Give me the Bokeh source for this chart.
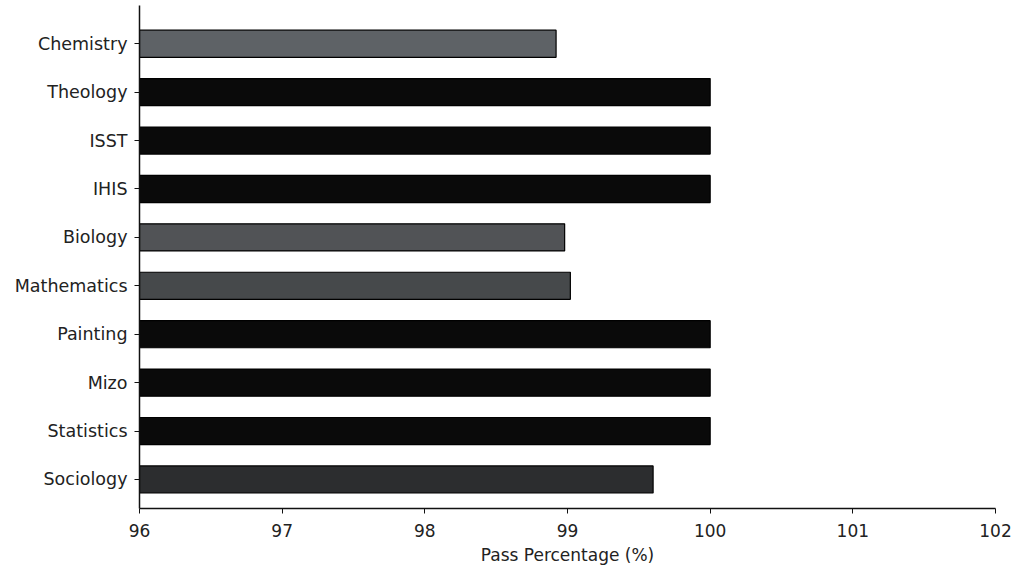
from bokeh.plotting import figure
from bokeh.models import Range1d, FixedTicker, ColumnDataSource
from bokeh.embed import file_html
from bokeh.resources import INLINE

# Data (top to bottom as shown)
subjects = ["Chemistry", "Theology", "ISST", "IHIS", "Biology", "Mathematics",
            "Painting", "Mizo", "Statistics", "Sociology"]
pass_pct = [98.92, 100.0, 100.0, 100.0, 98.98, 99.02, 100.0, 100.0, 100.0, 99.6]
bar_colors = ["#5e6266", "#0a0a0a", "#0a0a0a", "#0a0a0a", "#515356", "#46494b",
              "#0a0a0a", "#0a0a0a", "#0a0a0a", "#2c2d2f"]
x_ticks = [96, 97, 98, 99, 100, 101, 102]

n = len(subjects)
ypos = [n - 1 - i for i in range(n)]

src = ColumnDataSource(dict(y=ypos, right=pass_pct, color=bar_colors,
                            left=[x_ticks[0]] * n))

p = figure(width=1013, height=570, output_backend="svg", toolbar_location=None,
           x_range=Range1d(96, 102), y_range=Range1d(-0.6, 9.79),
           min_border_left=139, min_border_right=18, min_border_top=5,
           min_border_bottom=62)

p.hbar(y="y", left="left", right="right", height=0.56, fill_color="color",
       line_color="#000000", line_width=1.2, source=src)

p.outline_line_color = None
p.xgrid.visible = False
p.ygrid.visible = False
p.background_fill_color = "white"
p.border_fill_color = "white"

font = "DejaVu Sans"

p.xaxis.ticker = FixedTicker(ticks=x_ticks)
p.xaxis.major_label_overrides = {t: str(t) for t in x_ticks}
p.xaxis.axis_label = "Pass Percentage (%)"
p.xaxis.axis_label_text_font = font
p.xaxis.axis_label_text_font_style = "normal"
p.xaxis.axis_label_text_font_size = "17px"
p.xaxis.axis_label_text_color = "#222222"
p.xaxis.axis_label_standoff = 5
p.xaxis.major_label_text_font = font
p.xaxis.major_label_text_font_size = "17px"
p.xaxis.major_label_text_color = "#222222"
p.xaxis.major_label_standoff = 10
p.xaxis.major_tick_out = 5
p.xaxis.major_tick_in = 0
p.xaxis.minor_tick_line_color = None
p.xaxis.axis_line_color = "#111111"
p.xaxis.axis_line_width = 1.5
p.xaxis.major_tick_line_color = "#111111"

p.yaxis.ticker = FixedTicker(ticks=ypos)
p.yaxis.major_label_overrides = {y: s for y, s in zip(ypos, subjects)}
p.yaxis.major_label_text_font = font
p.yaxis.major_label_text_font_size = "17.5px"
p.yaxis.major_label_text_color = "#222222"
p.yaxis.major_label_standoff = 7
p.yaxis.major_tick_out = 5
p.yaxis.major_tick_in = 0
p.yaxis.minor_tick_line_color = None
p.yaxis.axis_line_color = "#111111"
p.yaxis.axis_line_width = 1.5
p.yaxis.major_tick_line_color = "#111111"

open("out.html", "w").write(file_html(p, INLINE))
